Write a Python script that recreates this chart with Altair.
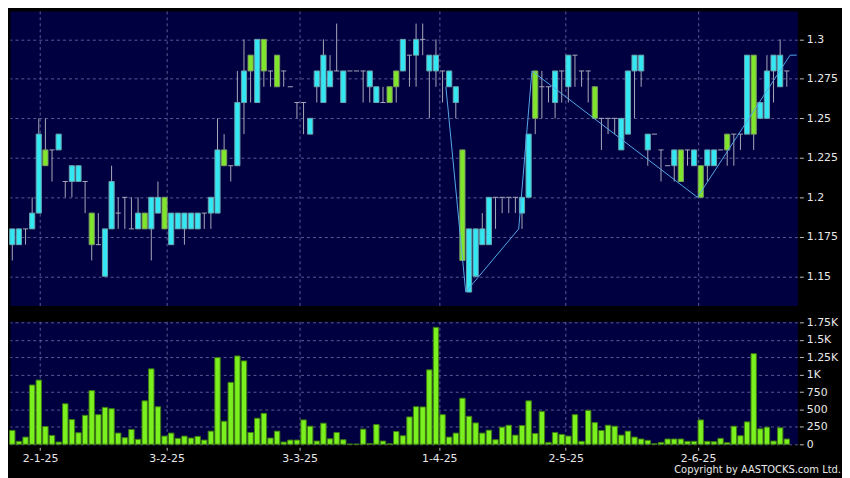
import altair as alt
import pandas as pd

# ---- data (index = trading day) ----
opens = [1.17, 1.17, 1.18, 1.18, 1.19, 1.23, 1.23, 1.23, 1.21, 1.21,
         1.21, 1.21, 1.19, 1.17, 1.15, 1.18, 1.19, 1.20, 1.18, 1.18,
         1.19, 1.18, 1.19, 1.20, 1.17, 1.18, 1.18, 1.18, 1.18, 1.19,
         1.19, 1.19, 1.23, 1.22, 1.22, 1.26, 1.29, 1.26, 1.30, 1.28,
         1.29, 1.28, 1.27, 1.26, 1.26, 1.24, 1.27, 1.26, 1.27, 1.28,
         1.26, 1.28, 1.28, 1.28, 1.27, 1.26, 1.26, 1.27, 1.28, 1.28,
         1.29, 1.29, 1.30, 1.28, 1.28, 1.28, 1.27, 1.26, 1.23, 1.14,
         1.15, 1.17, 1.17, 1.20, 1.20, 1.20, 1.20, 1.19, 1.20, 1.28,
         1.27, 1.27, 1.26, 1.28, 1.27, 1.29, 1.28, 1.28, 1.27, 1.25,
         1.25, 1.25, 1.23, 1.24, 1.28, 1.28, 1.23, 1.24, 1.23, 1.22,
         1.22, 1.23, 1.23, 1.22, 1.22, 1.22, 1.22, 1.23, 1.24, 1.24,
         1.24, 1.24, 1.29, 1.25, 1.25, 1.28, 1.27, 1.28]
highs = [1.18, 1.18, 1.18, 1.20, 1.25, 1.25, 1.23, 1.24, 1.21, 1.22,
         1.22, 1.21, 1.19, 1.19, 1.18, 1.22, 1.20, 1.20, 1.20, 1.20,
         1.19, 1.20, 1.21, 1.20, 1.19, 1.19, 1.19, 1.19, 1.19, 1.19,
         1.20, 1.25, 1.24, 1.22, 1.28, 1.30, 1.29, 1.30, 1.30, 1.28,
         1.29, 1.28, 1.27, 1.26, 1.26, 1.25, 1.28, 1.30, 1.29, 1.31,
         1.28, 1.28, 1.28, 1.28, 1.28, 1.27, 1.27, 1.27, 1.28, 1.30,
         1.29, 1.31, 1.31, 1.29, 1.30, 1.28, 1.28, 1.27, 1.23, 1.18,
         1.18, 1.19, 1.20, 1.20, 1.20, 1.20, 1.20, 1.20, 1.24, 1.28,
         1.28, 1.27, 1.28, 1.28, 1.29, 1.29, 1.28, 1.28, 1.27, 1.25,
         1.25, 1.25, 1.25, 1.28, 1.29, 1.29, 1.24, 1.24, 1.23, 1.22,
         1.23, 1.23, 1.23, 1.23, 1.22, 1.23, 1.23, 1.23, 1.24, 1.24,
         1.24, 1.29, 1.29, 1.26, 1.29, 1.29, 1.30, 1.28]
lows = [1.16, 1.17, 1.17, 1.18, 1.19, 1.22, 1.21, 1.23, 1.20, 1.20,
        1.21, 1.19, 1.16, 1.17, 1.15, 1.18, 1.18, 1.18, 1.18, 1.18,
        1.18, 1.16, 1.19, 1.18, 1.17, 1.18, 1.17, 1.18, 1.18, 1.18,
        1.18, 1.19, 1.22, 1.21, 1.22, 1.24, 1.26, 1.26, 1.27, 1.27,
        1.27, 1.27, 1.27, 1.25, 1.24, 1.24, 1.26, 1.26, 1.27, 1.28,
        1.26, 1.28, 1.28, 1.26, 1.26, 1.26, 1.26, 1.26, 1.26, 1.28,
        1.27, 1.27, 1.29, 1.25, 1.27, 1.26, 1.27, 1.25, 1.16, 1.14,
        1.15, 1.17, 1.17, 1.18, 1.19, 1.19, 1.19, 1.18, 1.20, 1.24,
        1.25, 1.26, 1.25, 1.26, 1.26, 1.27, 1.27, 1.26, 1.25, 1.23,
        1.24, 1.24, 1.23, 1.24, 1.25, 1.27, 1.22, 1.24, 1.21, 1.22,
        1.21, 1.21, 1.22, 1.22, 1.20, 1.21, 1.22, 1.23, 1.22, 1.22,
        1.23, 1.24, 1.23, 1.25, 1.25, 1.26, 1.27, 1.27]
closes = [1.18, 1.18, 1.18, 1.19, 1.24, 1.22, 1.23, 1.24, 1.21, 1.22,
          1.22, 1.21, 1.17, 1.17, 1.18, 1.21, 1.19, 1.20, 1.18, 1.19,
          1.18, 1.20, 1.20, 1.18, 1.19, 1.19, 1.19, 1.19, 1.19, 1.19,
          1.20, 1.23, 1.22, 1.22, 1.26, 1.28, 1.28, 1.30, 1.28, 1.28,
          1.27, 1.28, 1.27, 1.26, 1.26, 1.25, 1.28, 1.29, 1.28, 1.28,
          1.28, 1.28, 1.28, 1.28, 1.28, 1.27, 1.26, 1.26, 1.27, 1.30,
          1.29, 1.30, 1.30, 1.29, 1.29, 1.28, 1.28, 1.27, 1.16, 1.18,
          1.18, 1.18, 1.20, 1.20, 1.20, 1.20, 1.20, 1.20, 1.24, 1.25,
          1.27, 1.27, 1.28, 1.28, 1.29, 1.29, 1.28, 1.28, 1.25, 1.25,
          1.25, 1.25, 1.25, 1.28, 1.29, 1.29, 1.24, 1.24, 1.23, 1.22,
          1.23, 1.21, 1.23, 1.23, 1.20, 1.23, 1.23, 1.23, 1.23, 1.24,
          1.24, 1.29, 1.24, 1.26, 1.28, 1.29, 1.29, 1.28]
volumes = [200, 43, 104, 851, 922, 255, 128, 33, 582, 355,
           166, 416, 771, 426, 530, 511, 161, 95, 213, 71,
           624, 1083, 539, 118, 161, 85, 118, 90, 114, 61,
           189, 1244, 331, 889, 1268, 1197, 170, 374, 445, 90,
           189, 33, 61, 61, 350, 260, 47, 303, 80, 170,
           66, 4, 4, 218, 10, 284, 47, 8, 184, 123,
           393, 540, 536, 1069, 1679, 426, 104, 161, 662, 402,
           307, 161, 203, 66, 246, 274, 132, 270, 624, 156,
           473, 28, 170, 142, 118, 426, 43, 487, 312, 199,
           274, 260, 132, 189, 104, 76, 57, 9, 28, 76,
           76, 76, 43, 43, 350, 43, 38, 85, 24, 260,
           123, 322, 1301, 222, 246, 47, 237, 76]

# zigzag overlay (index, price)
zz_x = [65.5, 68.5, 76.5, 78.5, 103.5, 117.5, 118.5]
zz_y = [1.27, 1.14, 1.18, 1.28, 1.20, 1.29, 1.29]

tick_pos = [4.2, 23.3, 43.4, 64.5, 83.6, 103.6]
tick_labels = ["2-1-25", "3-2-25", "3-3-25", "1-4-25", "2-5-25", "2-6-25"]
price_ticks = [1.15, 1.175, 1.2, 1.225, 1.25, 1.275, 1.3]
vol_ticks = [0, 250, 500, 750, 1000, 1250, 1500, 1750]
copyright_text = "Copyright by AASTOCKS.com Ltd."

# ---- styles ----
CYAN, CYAN_S = "#33e8f2", "#6aa3ad"
GREEN, GREEN_S = "#80e62c", "#7c9c62"
WICK = "#a8a8ba"
VOLF, VOLS = "#7af01e", "#3f7a12"
ZZ = "#55a8e8"
GRIDC = "#5a5a92"
NAVY = "#000040"

rows = []
for i in range(len(opens)):
    o, h, l, c = opens[i], highs[i], lows[i], closes[i]
    d = "up" if c > o else ("down" if c < o else "flat")
    rows.append(dict(i=i, o=o, h=h, l=l, c=c, top=max(o, c), bot=min(o, c), d=d,
                     x0=i - 0.39, x1=i + 0.39, v=volumes[i],
                     vx0=i - 0.41, vx1=i + 0.41, zero=0))
df = pd.DataFrame(rows)
zdf = pd.DataFrame({"x": zz_x, "y": zz_y})

W = 794
xscale = alt.Scale(domain=[-0.35, 118.6], nice=False, zero=False)
pscale = alt.Scale(domain=[1.1315, 1.318], nice=False, zero=False)
vscale = alt.Scale(domain=[0, 1765], nice=False, zero=False)

grid_kw = dict(grid=True, gridColor=GRIDC, gridDash=[3, 3], gridWidth=1)

x_price_axis = alt.Axis(values=tick_pos, labels=False, ticks=False, domain=False,
                        title=None, minExtent=0, maxExtent=0, **grid_kw)
y_price_axis = alt.Axis(orient="right", values=price_ticks, format=".4~g", title=None,
                        offset=2, tickSize=4, labelPadding=3, domain=False, **grid_kw)

label_expr = "{}[indexof({}, datum.value)]".format(
    "[" + ",".join("'%s'" % t for t in tick_labels) + "]",
    "[" + ",".join(str(p) for p in tick_pos) + "]")
x_vol_axis = alt.Axis(values=tick_pos, labelExpr=label_expr, title=None, tickSize=3,
                      offset=3, labelPadding=2, domain=False, labelFlush=False, **grid_kw)
y_vol_axis = alt.Axis(orient="right", values=vol_ticks, title=None, offset=2, tickSize=4,
                      labelPadding=3, domain=False,
                      labelExpr="datum.value >= 1000 ? format(datum.value/1000, '.3~g') + 'K' : format(datum.value, 'd')",
                      **grid_kw)

base = alt.Chart(df)

def PX(f):
    return alt.X(f, type="quantitative", scale=xscale, axis=x_price_axis)

def PY(f):
    return alt.Y(f, type="quantitative", scale=pscale, axis=y_price_axis)

wick = base.mark_rule(color=WICK, strokeWidth=1).encode(x=PX("i"), y=PY("l"), y2="h")
doji = base.transform_filter("datum.d == 'flat'").mark_rule(
    color=WICK, strokeWidth=1).encode(x=PX("x0"), x2="x1", y=PY("c"))
body = base.transform_filter("datum.d != 'flat'").mark_rect(strokeWidth=1).encode(
    x=PX("x0"), x2="x1", y=PY("bot"), y2="top",
    fill=alt.Fill("d:N", scale=alt.Scale(domain=["up", "down"], range=[CYAN, GREEN]), legend=None),
    stroke=alt.Stroke("d:N", scale=alt.Scale(domain=["up", "down"], range=[CYAN_S, GREEN_S]), legend=None),
)
zz = alt.Chart(zdf).mark_line(color=ZZ, strokeWidth=1).encode(x=PX("x"), y=PY("y"))

price = alt.layer(wick, doji, body, zz).properties(width=W, height=297)

vol_bar = base.mark_rect(fill=VOLF, stroke=VOLS, strokeWidth=1).encode(
    x=alt.X("vx0:Q", scale=xscale, axis=x_vol_axis), x2="vx1",
    y=alt.Y("v:Q", scale=vscale, axis=y_vol_axis), y2="zero")
copyright_layer = alt.Chart(pd.DataFrame({"t": [copyright_text]})).mark_text(
    align="right", baseline="middle", color="#e8e8e8", fontSize=10, font="DejaVu Sans"
).encode(text="t:N", x=alt.value(838), y=alt.value(150))

volume = alt.layer(vol_bar, copyright_layer).properties(width=W, height=124)

chart = alt.vconcat(price, volume, spacing=9).properties(
    background="black", padding=0
).configure_view(fill=NAVY, stroke="transparent").configure_axis(
    labelColor="#e8e8e8", labelFont="DejaVu Sans", labelFontSize=11, tickColor="#c0c0c0"
)

chart.save("out.html", embed_options={"renderer": "svg", "actions": False})
